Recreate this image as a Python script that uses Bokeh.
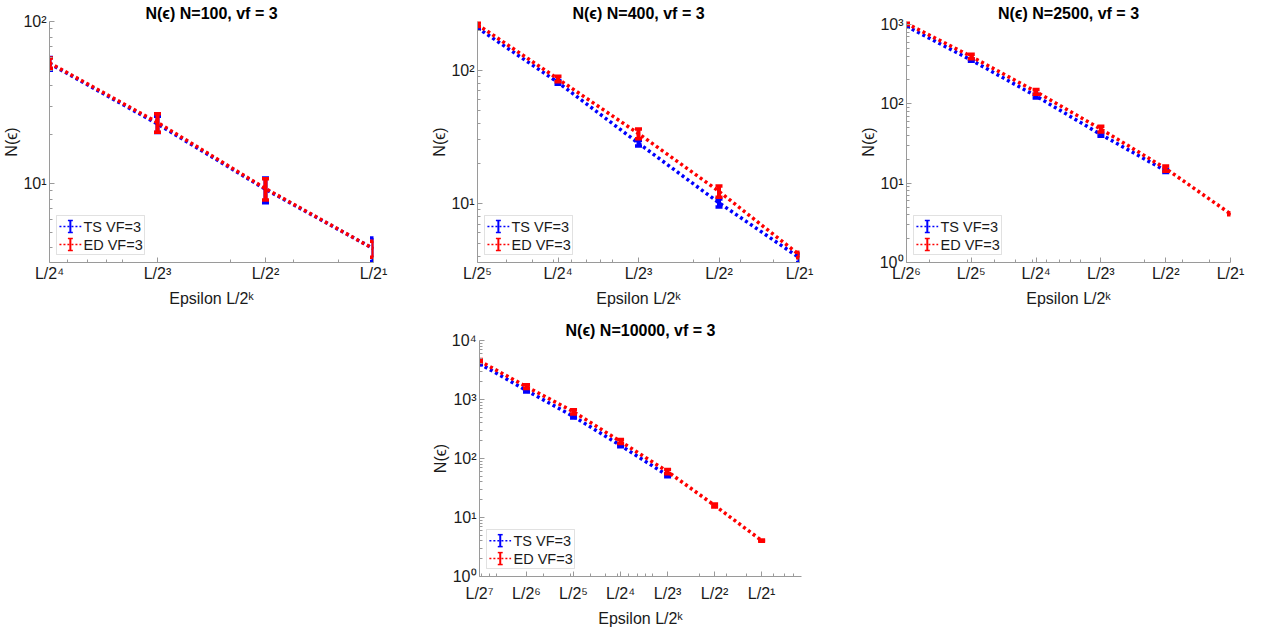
import numpy as np
from bokeh.plotting import figure
from bokeh.models import (Range1d, FixedTicker, Label, BoxAnnotation, Spacer)
from bokeh.layouts import column, row
from bokeh.embed import file_html
from bokeh.resources import INLINE

# ---------------- data ----------------
n_values = [100, 400, 2500, 10000]

k_ts_100 = [4, 3, 2, 1]
ts_100 = [55.0, 23.3, 9.2, 3.95]
ts_err_100 = [5.0, 2.7, 1.6, 0.65]
k_ed_100 = [4, 3, 2, 1]
ed_100 = [55.5, 23.8, 9.3, 3.95]
ed_err_100 = [4.0, 3.1, 1.4, 0.45]

k_ts_400 = [5, 4, 3, 2, 1]
ts_400 = [208.0, 81.0, 28.3, 10.1, 3.9]
ts_err_400 = [5.0, 2.5, 1.3, 0.7, 0.3]
k_ed_400 = [5, 4, 3, 2, 1]
ed_400 = [220.0, 86.0, 33.4, 12.3, 4.1]
ed_err_400 = [7.0, 4.0, 2.8, 1.2, 0.2]

k_ts_2500 = [6, 5, 4, 3, 2]
ts_2500 = [950.0, 355.0, 125.0, 41.0, 14.3]
ts_err_2500 = [25.0, 12.0, 7.0, 2.0, 0.7]
k_ed_2500 = [6, 5, 4, 3, 2, 1]
ed_2500 = [1030.0, 395.0, 142.0, 48.0, 15.3, 4.1]
ed_err_2500 = [40.0, 25.0, 10.0, 4.0, 1.2, 0.1]

k_ts_10000 = [7, 6, 5, 4, 3]
ts_10000 = [4050.0, 1420.0, 515.0, 166.0, 51.5]
ts_err_10000 = [150.0, 80.0, 30.0, 8.0, 2.5]
k_ed_10000 = [7, 6, 5, 4, 3, 2, 1]
ed_10000 = [4500.0, 1650.0, 620.0, 194.0, 60.0, 16.0, 4.07]
ed_err_10000 = [250.0, 120.0, 50.0, 15.0, 5.0, 1.0, 0.1]

legend_labels = ["TS VF=3", "ED VF=3"]
x_label = "Epsilon L/2\u1d4f"
y_label = "N(\u03f5)"

BLUE = "#0000ff"
RED = "#ff0000"
AXC = "#9a9a9a"
FONT = "Liberation Sans"
SUP = str.maketrans("0123456789", "\u2070\u00b9\u00b2\u00b3\u2074\u2075\u2076\u2077\u2078\u2079")
BL = 47  # left border


def draw_series(p, ks, vals, errs, color):
    x = 2.0 ** -np.array(ks, dtype=float)
    v = np.array(vals)
    e = np.array(errs)
    p.line(x, v, line_color=color, line_width=3.5, line_dash="3 3")
    p.segment(x, v - e, x, v + e, line_color=color, line_width=4)
    p.scatter(np.r_[x, x], np.r_[v - e, v + e], marker="dash", size=7,
              line_color=color, line_width=3.5)


def make_panel(N, ts_set, ed_set, kmax, xmax, ylo, yhi, width, height,
               b_top, b_bottom, b_right, tick_sd, lab_sd, title_sd):
    xlo = 2.0 ** -kmax
    fw = width - BL - b_right
    fh = height - b_top - b_bottom
    p = figure(width=width, height=height, x_axis_type="log", y_axis_type="log",
               x_range=Range1d(xlo, xmax), y_range=Range1d(ylo, yhi),
               output_backend="svg", toolbar_location=None,
               min_border_left=BL, min_border_right=b_right,
               min_border_top=b_top, min_border_bottom=b_bottom)
    p.outline_line_color = None
    p.xgrid.visible = False
    p.ygrid.visible = False
    p.background_fill_color = "white"
    p.border_fill_color = "white"

    # title
    p.title.text = f"N(\u03f5) N={N}, vf = 3"
    p.title.align = "center"
    p.title.text_font = FONT
    p.title.text_font_size = "16px"
    p.title.text_font_style = "bold"
    p.title.text_color = "#000000"
    p.title.standoff = title_sd

    draw_series(p, *ts_set, BLUE)
    draw_series(p, *ed_set, RED)

    # x ticks
    xt = [2.0 ** -k for k in range(kmax, 0, -1)]
    xminor = [m * 10.0 ** d for d in (-3, -2, -1) for m in range(1, 10)]
    xminor = [t for t in xminor if xlo < t < xmax and all(abs(t - q) > 1e-9 for q in xt)]
    p.xaxis.ticker = FixedTicker(ticks=xt, minor_ticks=xminor)
    p.xaxis.major_label_overrides = {2.0 ** -k: "L/2" + str(k).translate(SUP)
                                     for k in range(kmax, 0, -1)}
    # y ticks
    dmin, dmax = int(np.floor(np.log10(ylo))), int(np.ceil(np.log10(yhi)))
    yt = [10.0 ** d for d in range(dmin, dmax + 1) if ylo * 0.999 <= 10.0 ** d <= yhi * 1.001]
    yminor = [m * 10.0 ** d for d in range(dmin, dmax + 1) for m in range(2, 10)]
    yminor = [t for t in yminor if ylo < t < yhi]
    p.yaxis.ticker = FixedTicker(ticks=yt, minor_ticks=yminor)
    p.yaxis.major_label_overrides = {10.0 ** d: "10" + str(d).translate(SUP)
                                     for d in range(dmin, dmax + 1)}

    for ax in (p.xaxis[0], p.yaxis[0]):
        ax.axis_line_color = AXC
        ax.major_tick_line_color = AXC
        ax.minor_tick_line_color = AXC
        ax.major_tick_in = 5
        ax.major_tick_out = 0
        ax.minor_tick_in = 3
        ax.minor_tick_out = 0
        ax.major_label_text_font = FONT
        ax.major_label_text_font_size = "16px"
        ax.major_label_text_color = "#1a1a1a"
        ax.axis_label_text_font = FONT
        ax.axis_label_text_font_size = "16px"
        ax.axis_label_text_font_style = "normal"
        ax.axis_label_text_color = "#1a1a1a"
    p.xaxis.axis_label = x_label
    p.yaxis.axis_label = y_label
    p.xaxis.major_label_standoff = tick_sd
    p.xaxis.axis_label_standoff = lab_sd
    p.yaxis.major_label_standoff = 3
    p.yaxis.axis_label_standoff = 0

    # legend (box in screen units; icons mapped from frame pixels)
    def sx2x(sx):
        return xlo * (xmax / xlo) ** (sx / fw)

    def sy2y(sy):
        return ylo * (yhi / ylo) ** (sy / fh)

    p.add_layout(BoxAnnotation(left=7, right=95, bottom=8, top=47,
                               left_units="screen", right_units="screen",
                               top_units="screen", bottom_units="screen",
                               fill_color="white", fill_alpha=1.0,
                               line_color=AXC, line_width=1, level="annotation"))
    for cy, color, lab in ((36, BLUE, legend_labels[0]), (18, RED, legend_labels[1])):
        p.segment([sx2x(10)], [sy2y(cy)], [sx2x(32)], [sy2y(cy)], line_color=color,
                  line_width=1.5, line_dash="2 2", level="overlay")
        p.segment([sx2x(21)], [sy2y(cy - 6)], [sx2x(21)], [sy2y(cy + 6)], line_color=color,
                  line_width=2, level="overlay")
        p.segment([sx2x(18.5)] * 2, [sy2y(cy - 6), sy2y(cy + 6)],
                  [sx2x(23.5)] * 2, [sy2y(cy - 6), sy2y(cy + 6)],
                  line_color=color, line_width=1.5, level="overlay")
        p.add_layout(Label(x=34, y=cy, x_units="screen", y_units="screen", text=lab,
                           text_baseline="middle", text_align="left",
                           text_font=FONT, text_font_size="14.5px",
                           text_color="#1a1a1a", level="overlay"))
    return p


p1 = make_panel(n_values[0], (k_ts_100, ts_100, ts_err_100), (k_ed_100, ed_100, ed_err_100),
                4, 0.5, 3.25, 100.0, 428, 315, 21, 53, 55, 2, 5, 0)
p2 = make_panel(n_values[1], (k_ts_400, ts_400, ts_err_400), (k_ed_400, ed_400, ed_err_400),
                5, 0.5, 3.6, 232.0, 428, 315, 21, 53, 57, 2, 5, 0)
p3 = make_panel(n_values[2], (k_ts_2500, ts_2500, ts_err_2500), (k_ed_2500, ed_2500, ed_err_2500),
                6, 0.5, 1.0, 1090.0, 391, 315, 21, 53, 17, 2, 5, 0)
p4 = make_panel(n_values[3], (k_ts_10000, ts_10000, ts_err_10000), (k_ed_10000, ed_10000, ed_err_10000),
                7, 0.9, 1.0, 10000.0, 428, 314, 25, 52, 55, 8, 5, 3)

layout = column(row(p1, p2, p3), row(Spacer(width=428, height=314), p4))

open("out.html", "w").write(file_html(layout, INLINE))
